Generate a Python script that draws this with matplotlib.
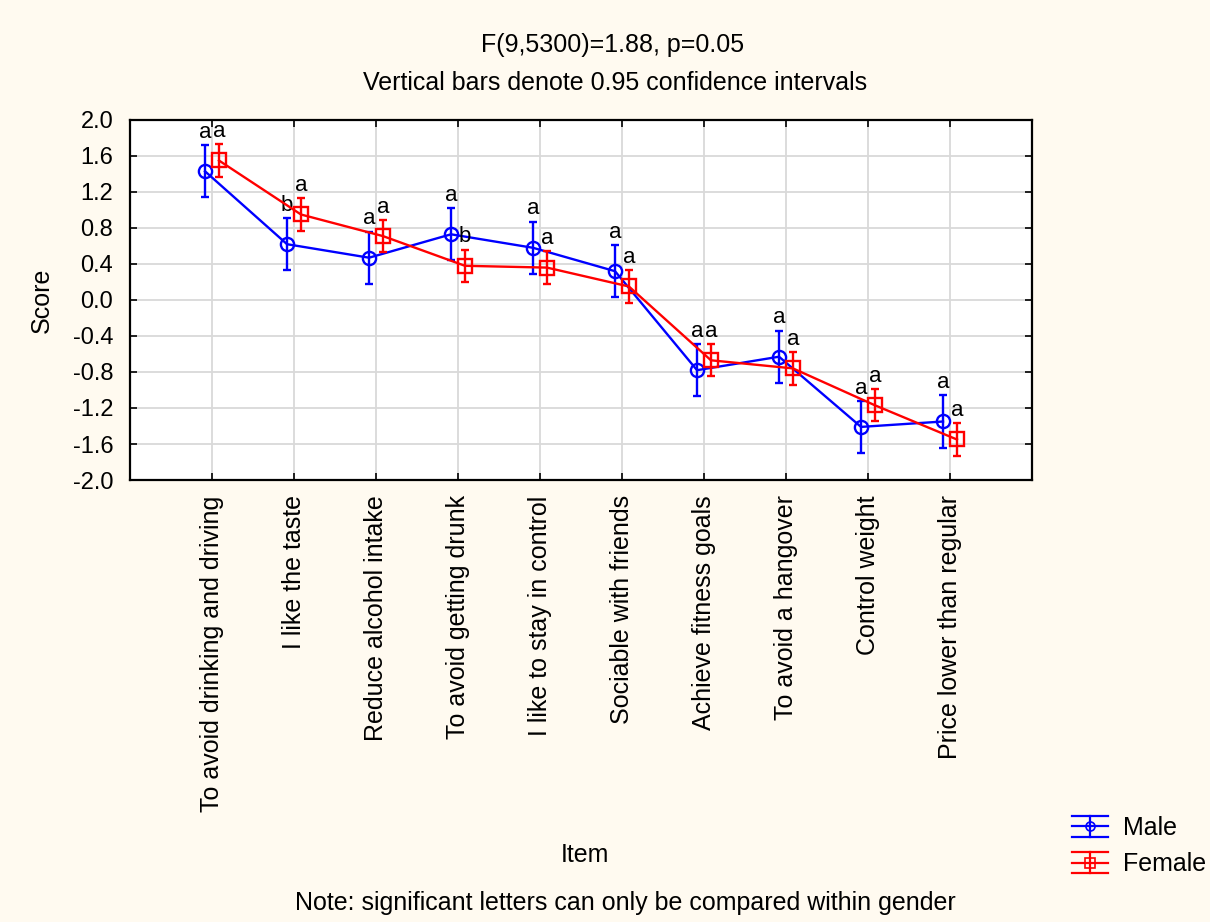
import matplotlib
matplotlib.use("Agg")
import matplotlib.pyplot as plt
from matplotlib.legend_handler import HandlerBase
from matplotlib.lines import Line2D
import numpy as np

plt.rcParams['font.family'] = ['Liberation Sans', 'DejaVu Sans']

items = ["To avoid drinking and driving", "I like the taste", "Reduce alcohol intake",
         "To avoid getting drunk", "I like to stay in control", "Sociable with friends",
         "Achieve fitness goals", "To avoid a hangover", "Control weight",
         "Price lower than regular"]
male_mean = [1.43, 0.62, 0.47, 0.73, 0.58, 0.32, -0.78, -0.63, -1.41, -1.35]
male_ci = [0.29, 0.29, 0.29, 0.29, 0.29, 0.29, 0.29, 0.29, 0.29, 0.29]
female_mean = [1.55, 0.95, 0.71, 0.38, 0.36, 0.15, -0.67, -0.76, -1.17, -1.55]
female_ci = [0.18, 0.18, 0.18, 0.18, 0.18, 0.18, 0.18, 0.18, 0.18, 0.18]
male_letters = ["a", "b", "a", "a", "a", "a", "a", "a", "a", "a"]
female_letters = ["a", "a", "a", "b", "a", "a", "a", "a", "a", "a"]
y_ticks = [-2.0, -1.6, -1.2, -0.8, -0.4, 0.0, 0.4, 0.8, 1.2, 1.6, 2.0]

bg = '#FFFAF0'
fig = plt.figure(figsize=(12.1, 9.22), dpi=100, facecolor=bg)
ax = fig.add_axes([130/1210, 1-480/922, (1032-130)/1210, 360/922])
ax.set_facecolor('white')

x = np.arange(1, len(items) + 1)
off = 0.085
xm = x - off
xf = x + off

ax.errorbar(xm, male_mean, yerr=male_ci, color='#0000FF', lw=1.7, marker='o',
            ms=9.5, mfc='none', mec='#0000FF', mew=1.7, capsize=3, capthick=1.7,
            elinewidth=1.7, zorder=3)
ax.errorbar(xf, female_mean, yerr=female_ci, color='#FF0000', lw=1.7, marker='s',
            ms=9.5, mfc='none', mec='#FF0000', mew=1.7, capsize=3, capthick=1.7,
            elinewidth=1.7, zorder=4)

for i in range(len(items)):
    ax.text(xm[i], male_mean[i] + male_ci[i] + 0.025, male_letters[i], ha='center',
            va='bottom', fontsize=16, color='black', zorder=2)
    ax.text(xf[i], female_mean[i] + female_ci[i] + 0.025, female_letters[i], ha='center',
            va='bottom', fontsize=16, color='black', zorder=5)

ax.set_xlim(0, 11)
ax.set_ylim(-2.0, 2.0)
ax.set_yticks(y_ticks)
ax.set_yticklabels([f"{abs(v) if abs(v) < 1e-9 else v:.1f}" for v in y_ticks], fontsize=17)
ax.set_xticks(x)
ax.set_xticklabels(items, rotation=90, fontsize=18, va='top', ha='center')
ax.tick_params(axis='both', direction='in', length=5, width=1.2, top=True, right=True,
               labelright=False, labeltop=False)
ax.tick_params(axis='x', pad=11)
ax.tick_params(axis='y', pad=12)
ax.grid(True, color='#D9D9D9', lw=1.3, zorder=0)
ax.set_axisbelow(True)
for s in ax.spines.values():
    s.set_linewidth(1.6)
    s.set_color('black')

fig.text(42/1210, 1-300/922, "Score", rotation=90, ha='center', va='center', fontsize=18)
fig.text(585/1210, 1-855/922, "Item", ha='center', va='center', fontsize=18)
fig.text(613/1210, 1-45/922, "F(9,5300)=1.88, p=0.05", ha='center', va='center', fontsize=18)
fig.text(615/1210, 1-83/922, "Vertical bars denote 0.95 confidence intervals", ha='center',
         va='center', fontsize=18)
fig.text(625/1210, 1-903/922, "Note: significant letters can only be compared within gender",
         ha='center', va='center', fontsize=18)


class ErrSym(HandlerBase):
    def __init__(self, color, marker):
        super().__init__()
        self.color = color
        self.marker = marker

    def create_artists(self, legend, orig_handle, xdescent, ydescent, width, height,
                       fontsize, trans):
        cx = width / 2 - xdescent
        cy = height / 2 - ydescent
        h = height * 0.6
        kw = dict(color=self.color, lw=1.6, transform=trans)
        arts = [Line2D([-xdescent, width - xdescent], [cy, cy], **kw),
                Line2D([-xdescent, width - xdescent], [cy + h, cy + h], **kw),
                Line2D([-xdescent, width - xdescent], [cy - h, cy - h], **kw),
                Line2D([cx, cx], [cy - h, cy + h], **kw),
                Line2D([cx], [cy], marker=self.marker, ms=6.5, mfc='none',
                       mec=self.color, mew=1.2, transform=trans)]
        return arts


h_m = Line2D([], [], color='#0000FF')
h_f = Line2D([], [], color='#FF0000')
leg = fig.legend([h_m, h_f], ['Male', 'Female'], loc='center left',
                 bbox_to_anchor=(1062/1210, 1-846/922), frameon=False,
                 fontsize=18, handlelength=1.45, labelspacing=0.5, handletextpad=0.6,
                 borderaxespad=0.0,
                 handler_map={h_m: ErrSym('#0000FF', 'o'), h_f: ErrSym('#FF0000', 's')})

fig.savefig("out.png", dpi=100, facecolor=bg)
